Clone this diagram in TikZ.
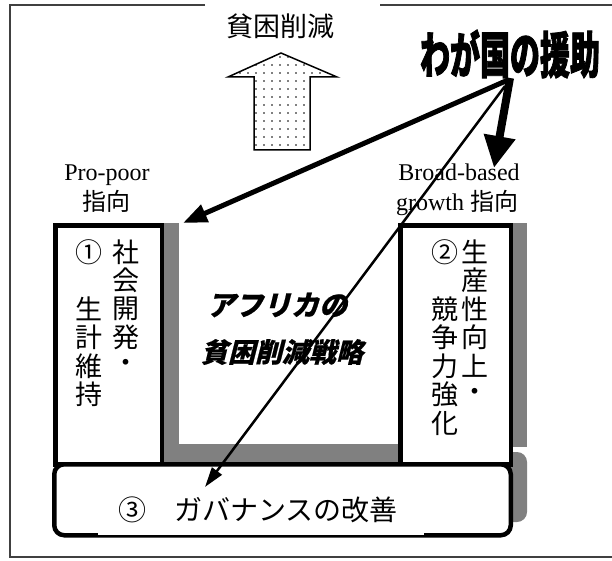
\documentclass[tikz,border=0pt]{standalone}
\usepackage{fontspec}
\setmainfont{Liberation Serif}
\newfontfamily\jp{Noto Sans CJK JP}
\newfontfamily\jpheavy[FakeStretch=0.6,FakeBold=1.5]{Noto Sans CJK JP}
\newfontfamily\jpsl[FakeSlant=0.25,FakeBold=0.6]{Noto Sans CJK JP}
\usetikzlibrary{arrows.meta,patterns.meta}
\tikzset{
  jpchar/.style={font=\jp\fontsize{27}{27}\selectfont, inner sep=0pt},
  lbl/.style={font=\fontsize{24}{24}\selectfont, inner sep=0pt, anchor=base},
  shade/.style={fill=black!50, draw=none},
  boxline/.style={draw=black, line width=4.5pt, fill=white},
  frameline/.style={draw=black!75, line width=1.5pt},
}
\begin{document}
\begin{tikzpicture}[x=1pt,y=-1pt]
\useasboundingbox (0,0) rectangle (612,561);
% outer frame (open at the title and right side)
\draw[frameline] (205,5) -- (10,5) -- (10,557) -- (614,557);
\draw[frameline] (380,5) -- (614,5);

% title and up arrow
\node[jpchar] (title) at (280,26) {貧困削減};
\draw[line width=1.5pt, pattern={Dots[distance=8pt,radius=0.8pt]}]
  (281,53) -- (337,77) -- (310,77) -- (310,150) -- (254,150) -- (254,77) -- (228,77) -- cycle;

% aid label
\node[inner sep=0pt, font=\jpheavy\bfseries\fontsize{50}{50}\selectfont] (aid) at (510,54) {わが国の援助};

% direction labels
\node[lbl] (pp1) at (107,181) {Pro-poor};
\node[lbl] (pp2) at (106,211) {\jp 指向};
\node[lbl] (bb1) at (459,181) {Broad-based};
\node[lbl] (bb2) at (457,211) {growth {\jp 指向}};

% shadows
\fill[shade] (163,223) rectangle (400,462);
\fill[white] (179,223) rectangle (399,444);
\fill[shade] (511,223) rectangle (527,447);
\fill[shade, rounded corners=10pt] (67,452) rectangle (527,522);

% boxes
\node[boxline, minimum width=106.5pt, minimum height=239pt, inner sep=0pt] (b1) at (108.5,344.75) {};
\node[boxline, minimum width=110.5pt, minimum height=239pt, inner sep=0pt] (b2) at (455.5,344.75) {};
\node[boxline, rounded corners=10pt, minimum width=456.5pt, minimum height=71pt, inner sep=0pt] (b3) at (282.5,499.75) {};
\fill[white] (98,531.5) rectangle (424,535);

% box texts
\foreach \c/\x/\r [count=\i] in {①/89/0, 社/126/0, 会/126/1, 生/89/2, 開/126/2, 計/89/3, 発/126/3, 維/89/4, ・/126/4, 持/89/5}
  \node[jpchar] (lb\i) at (\x,{252+28.5*\r}) {\c};
\foreach \c/\x/\r [count=\i] in {②/445/0, 生/475/0, 産/475/1, 競/445/2, 性/475/2, 争/445/3, 向/475/3, 力/445/4, 上/475/4, 強/445/5, ・/475/5, 化/445/6}
  \node[jpchar] (rb\i) at (\x,{252+28.5*\r}) {\c};

\node[inner sep=0pt, font=\jpsl\bfseries\fontsize{28}{28}\selectfont] (st1) at (277,305) {アフリカの};
\node[inner sep=0pt, font=\jpsl\bfseries\fontsize{27}{27}\selectfont] (st2) at (282,352) {貧困削減戦略};

\node[inner sep=0pt, font=\jp\fontsize{28}{28}\selectfont] (gov) at (258,510) {③　ガバナンスの改善};

% aid arrows
\coordinate (apex1) at (508,80);
\coordinate (apex2) at (505,86);
\coordinate (apex3) at (510,78);
\coordinate (t1) at (183,223);
\coordinate (t2) at (205,487);
\coordinate (t3) at (494,168);
\draw[line width=5pt, -{Triangle[length=24pt,width=18pt]}] (apex1) -- (t1);
\draw[line width=2.5pt, -{Triangle[length=20pt,width=12pt]}] (apex2) -- (t2);
\draw[line width=8pt, -{Triangle[length=32pt,width=30pt]}] (apex3) -- (t3);
\end{tikzpicture}
\end{document}
